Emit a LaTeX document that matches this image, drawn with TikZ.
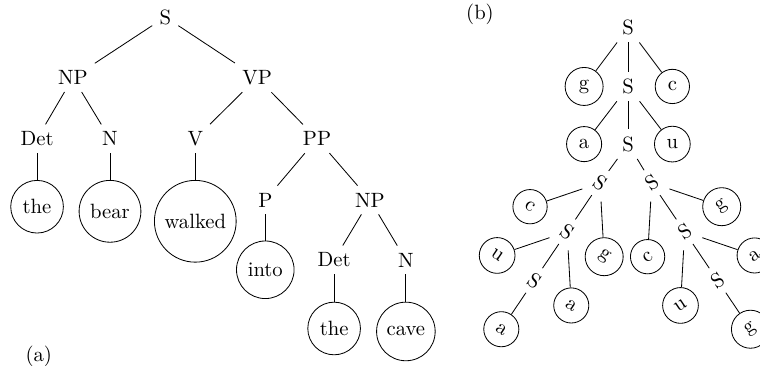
\documentclass[tikz,border=0pt]{standalone}
\usepackage{tikz}
\tikzset{leaf/.style = {draw, circle, inner sep = 3.6pt}}

\begin{document}
\begin{tikzpicture}
      \useasboundingbox (0, 0) rectangle (12.92, 6.22);

      % (a)
      \node (s) at (2.81, 5.93) {S};
      \node (np) at (1.24, 4.90) {NP};
      \node (vp) at (4.37, 4.90) {VP};
      \node (det) at (0.63, 3.86) {Det};
      \node (n) at (1.87, 3.86) {N};
      \node (v) at (3.32, 3.86) {V};
      \node (pp) at (5.39, 3.86) {PP};
      \node (p) at (4.51, 2.82) {P};
      \node (np2) at (6.29, 2.82) {NP};
      \node (det2) at (5.68, 1.80) {Det};
      \node (n2) at (6.90, 1.80) {N};

      \node [leaf, anchor=north] (the) at (0.63, 3.16) {the};
      \node [leaf, anchor=north] (bear) at (1.87, 3.16) {bear};
      \node [leaf, anchor=north] (walked) at (3.32, 3.16) {walked};
      \node [leaf, anchor=north] (into) at (4.51, 2.13) {into};
      \node [leaf, anchor=north] (the2) at (5.68, 1.09) {the};
      \node [leaf, anchor=north] (cave) at (6.90, 1.09) {cave};

      \draw (s) -- (np);
      \draw (s) -- (vp);
      \draw (np) -- (det);
      \draw (np) -- (n);
      \draw (vp) -- (v);
      \draw (vp) -- (pp);
      \draw (pp) -- (p);
      \draw (pp) -- (np2);
      \draw (np2) -- (det2);
      \draw (np2) -- (n2);
      \draw (det) -- (the);
      \draw (n) -- (bear);
      \draw (v) -- (walked);
      \draw (p) -- (into);
      \draw (det2) -- (the2);
      \draw (n2) -- (cave);

      \node (lbla) at (0.66, 0.17) {(a)};

      % (b)
      \node (lblb) at (8.16, 5.97) {(b)};

      \node (b1) at (10.68, 5.75) {S};
      \node [leaf] (bg) at (9.93, 4.75) {g};
      \node (b2) at (10.68, 4.75) {S};
      \node [leaf] (bc) at (11.43, 4.75) {c};
      \node [leaf] (ba) at (9.93, 3.77) {a};
      \node (b3) at (10.68, 3.77) {S};
      \node [leaf] (bu) at (11.43, 3.77) {u};

      \draw (b1) -- (bg);
      \draw (b1) -- (b2);
      \draw (b1) -- (bc);
      \draw (b2) -- (ba);
      \draw (b2) -- (b3);
      \draw (b2) -- (bu);

      \begin{scope}[shift={(10.20, 3.11)}, rotate=-34, transform shape]
        \node (l1) at (0, 0) {S};
        \node [leaf] (lc) at (-0.76, -1) {c};
        \node (l2) at (0, -1) {S};
        \node [leaf] (lg) at (0.76, -1) {g};
        \node [leaf] (lu) at (-0.76, -2) {u};
        \node (l3) at (0, -2) {S};
        \node [leaf] (la) at (0.76, -2) {a};
        \node [leaf] (la2) at (0, -3) {a};

        \draw (l1) -- (lc);
        \draw (l1) -- (l2);
        \draw (l1) -- (lg);
        \draw (l2) -- (lu);
        \draw (l2) -- (l3);
        \draw (l2) -- (la);
        \draw (l3) -- (la2);
      \end{scope}

      \begin{scope}[shift={(11.08, 3.11)}, rotate=34, transform shape]
        \node (r1) at (0, 0) {S};
        \node [leaf] (rc) at (-0.76, -1) {c};
        \node (r2) at (0, -1) {S};
        \node [leaf] (rg) at (0.76, -1) {g};
        \node [leaf] (ru) at (-0.76, -2) {u};
        \node (r3) at (0, -2) {S};
        \node [leaf] (ra) at (0.76, -2) {a};
        \node [leaf] (rg2) at (0, -3) {g};

        \draw (r1) -- (rc);
        \draw (r1) -- (r2);
        \draw (r1) -- (rg);
        \draw (r2) -- (ru);
        \draw (r2) -- (r3);
        \draw (r2) -- (ra);
        \draw (r3) -- (rg2);
      \end{scope}

      \draw (b3) -- (l1);
      \draw (b3) -- (r1);
    \end{tikzpicture}
\end{document}
